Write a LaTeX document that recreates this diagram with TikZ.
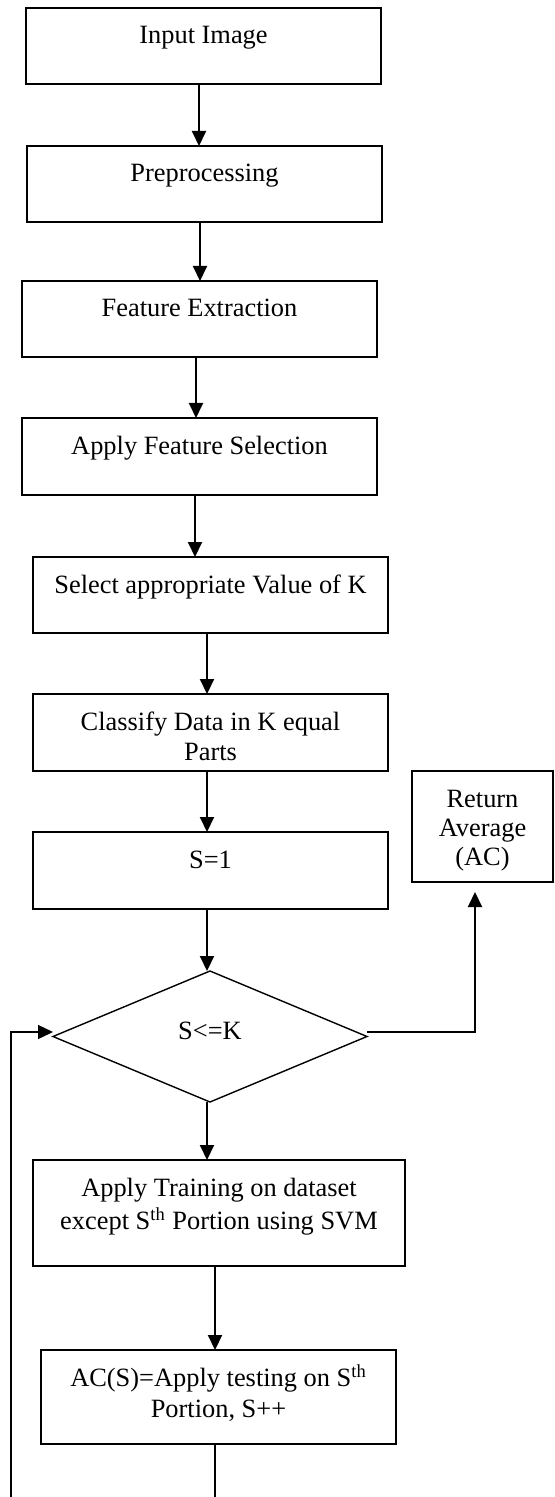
\documentclass[tikz,border=0pt]{standalone}
\usepackage{fontspec}
\setmainfont{Liberation Serif}
\usepackage{tikz}
\usetikzlibrary{shapes.geometric,arrows.meta,positioning}

\begin{document}
\begin{tikzpicture}[x=0.5pt,y=-0.5pt,
  box/.style={draw,line width=0.85pt,anchor=north,outer sep=0pt,minimum width=177.5pt,
    inner xsep=2pt,inner ysep=0pt,text height=18pt,text depth=20pt,align=center,
    font=\fontsize{13.2}{15}\selectfont},
  decision/.style={draw,diamond,line width=0.7pt,outer sep=0pt,minimum width=157pt,
    minimum height=65.5pt,inner sep=0pt,text height=9pt,text depth=6.5pt,
    font=\fontsize{13.2}{15}\selectfont},
  arr/.style={line width=1pt,-{Triangle[width=7pt,length=7.5pt]}},
  back/.style={line width=0.65pt,-{Triangle[width=7pt,length=7.5pt]}}]

  \useasboundingbox (0,0) rectangle (554,1497);
  \clip (0,0) rectangle (554,1497);

  % Steps
  \node[box] (inp) at (203.5,8) {Input Image};
  \node[box] (pre) at (204.5,146) {Preprocessing};
  \node[box] (fext) at (199.5,281) {Feature Extraction};
  \node[box,text depth=20.5pt] (fsel) at (199.5,418) {Apply Feature Selection};
  \node[box] (kval) at (210.5,557) {Select appropriate Value of K};
  \node[box,text height=33pt,text depth=5.5pt] (split) at (210.5,694) {Classify Data in K equal\\Parts};
  \node[box,text depth=20.5pt] (init) at (210.5,832) {S=1};
  \node[box,minimum width=70.5pt,text height=47pt,text depth=8.5pt] (ret) at (482.5,771)
    {Return\\[-0.5pt]Average\\[-0.5pt](AC)};

  % Loop test
  \node[decision] (dec) at (210,1036.5) {S<=K};

  \node[box,minimum width=186pt,text height=34.5pt,text depth=18.5pt] (train) at (219,1160)
    {Apply Training on dataset\\[1.5pt]except S\textsuperscript{th} Portion using SVM};
  \node[box,text height=33.5pt,text depth=13.5pt] (test) at (218.5,1350)
    {AC(S)=Apply testing on S\textsuperscript{th}\\[0.5pt]Portion, S++};

  % Arrows
  \draw[arr] (inp.south -| 199,0) -- (pre.north -| 199,0);
  \draw[arr] (pre.south -| 200,0) -- (fext.north -| 200,0);
  \draw[arr] (fext.south -| 196,0) -- (fsel.north -| 196,0);
  \draw[arr] (fsel.south -| 195,0) -- (kval.north -| 195,0);
  \draw[arr] (kval.south -| 207,0) -- (split.north -| 207,0);
  \draw[arr] (split.south -| 207,0) -- (init.north -| 207,0);
  \draw[arr] (init.south -| 207,0) -- (dec.north -| 207,0);
  \draw[arr] (dec.south -| 207,0) -- (train.north -| 207,0);
  \draw[arr] (train.south -| 215,0) -- (test.north -| 215,0);

  % Exit and loop back
  \draw[arr,shorten >=5pt] ([yshift=2.25pt]dec.east) -| ([xshift=-3.75pt]ret.south);
  \draw[back] (test.south -| 215,0) -- (215,1530) -- (11,1530) |- ([yshift=2.25pt]dec.west);
\end{tikzpicture}
\end{document}
